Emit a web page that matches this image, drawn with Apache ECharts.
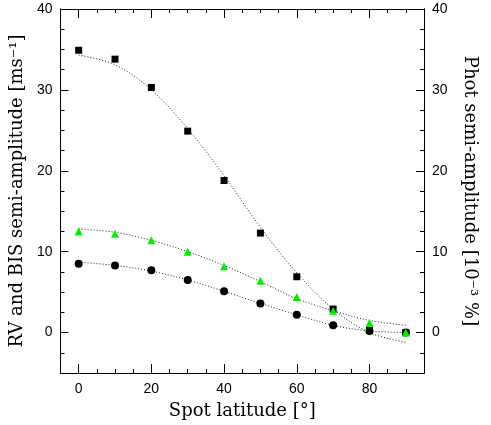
<!DOCTYPE html>
<html>
<head>
<meta charset="utf-8">
<script src="https://cdn.jsdelivr.net/npm/echarts@6/dist/echarts.min.js"></script>
<style>
  html, body { margin: 0; padding: 0; background: #fff; }
  #chart { width: 491px; height: 425px; }
</style>
</head>
<body>
<div id="chart"></div>
<script>
// spot latitude (deg)
const latitudes = [0, 10, 20, 30, 40, 50, 60, 70, 80, 90];
// RV semi-amplitude (squares) and its fit
const rvAmp = [34.9, 33.8, 30.3, 24.9, 18.8, 12.3, 6.9, 2.9, 0.3, 0];
const rvFit = [34.3, 33.1, 30.0, 25.2, 19.4, 13.0, 7.4, 2.9, 0.0, -1.2];
// photometric semi-amplitude (green triangles) and its fit
const photAmp = [12.5, 12.2, 11.4, 10.0, 8.2, 6.4, 4.4, 2.7, 1.2, 0];
const photFit = [12.8, 12.4, 11.4, 10.0, 8.3, 6.3, 4.2, 2.7, 1.5, 0.9];
// BIS semi-amplitude (circles) and its fit
const bisAmp = [8.5, 8.3, 7.7, 6.5, 5.1, 3.6, 2.2, 0.9, 0.2, 0];
const bisFit = [8.7, 8.3, 7.6, 6.5, 5.1, 3.6, 2.2, 0.9, 0.2, 0.0];
// tick labels
const xTicks = [0, 20, 40, 60, 80];
const yTicks = [0, 10, 20, 30, 40];

const pairs = ys => latitudes.map((x, i) => [x, ys[i]]);

const labelFont = { color: "#000", fontFamily: "Liberation Sans", fontSize: 14 };
const nameFont = { color: "#000", fontFamily: "DejaVu Serif", fontSize: 18 };

// one axis with short ticks every step, one overlaid with long ticks + labels at the major values
function axisPair(dim, position, majors, withLabels, name, rotate, gap) {
  const range = dim === "x" ? { min: -5, max: 95 } : { min: -5, max: 40 };
  return [
    Object.assign({
      type: "value", position: position, interval: dim === "x" ? 5 : 2.5,
      axisLine: { show: true, onZero: false, lineStyle: { color: "#000", width: 1 } },
      axisTick: { show: true, inside: true, length: 4, lineStyle: { color: "#000", width: 1 } },
      axisLabel: { show: false },
      splitLine: { show: false }
    }, range),
    Object.assign({
      type: "value", position: position, offset: 0.01,
      axisLine: { show: true, onZero: false, lineStyle: { color: "#000", width: 1 } },
      axisTick: {
        show: true, inside: true, length: dim === "x" ? 9 : 8,
        customValues: majors, lineStyle: { color: "#000", width: 1 }
      },
      axisLabel: Object.assign({
        show: true,
        margin: dim === "x" ? 9 : 8,
        customValues: majors,
        formatter: v => (withLabels ? String(v) : "")
      }, labelFont),
      splitLine: { show: false },
      name: name || "",
      nameLocation: "middle",
      nameRotate: rotate,
      nameGap: gap,
      nameTextStyle: nameFont
    }, range)
  ];
}

const fitLine = ys => ({
  type: "line",
  data: pairs(ys),
  smooth: 0.35,
  symbol: "none",
  z: 1,
  lineStyle: { color: "#222", width: 1, type: [1, 2] }
});

const marks = (ys, symbol, size, color, z) => ({
  type: "scatter",
  data: pairs(ys),
  symbol: symbol,
  symbolSize: size,
  z: z,
  itemStyle: { color: color, opacity: 1 }
});

const option = {
  animation: false,
  backgroundColor: "#fff",
  grid: { left: 57, right: 67, top: 8, bottom: 49 },
  xAxis: [].concat(
    axisPair("x", "bottom", xTicks, true, "Spot latitude [°]", 0, 29),
    axisPair("x", "top", xTicks, false)
  ),
  yAxis: [].concat(
    axisPair("y", "left", yTicks, true, "RV and BIS semi-amplitude [ms⁻¹]", 90, 32),
    axisPair("y", "right", yTicks, true, "Phot semi-amplitude [10⁻³ %]", -90, 37)
  ),
  series: [
    fitLine(rvFit),
    fitLine(photFit),
    fitLine(bisFit),
    marks(rvAmp, "rect", 7, "#000", 3),
    marks(bisAmp, "circle", 8, "#000", 4),
    marks(photAmp, "triangle", 8, "#00f000", 5)
  ]
};

const chart = echarts.init(document.getElementById("chart"));
chart.setOption(option);
</script>
</body>
</html>
